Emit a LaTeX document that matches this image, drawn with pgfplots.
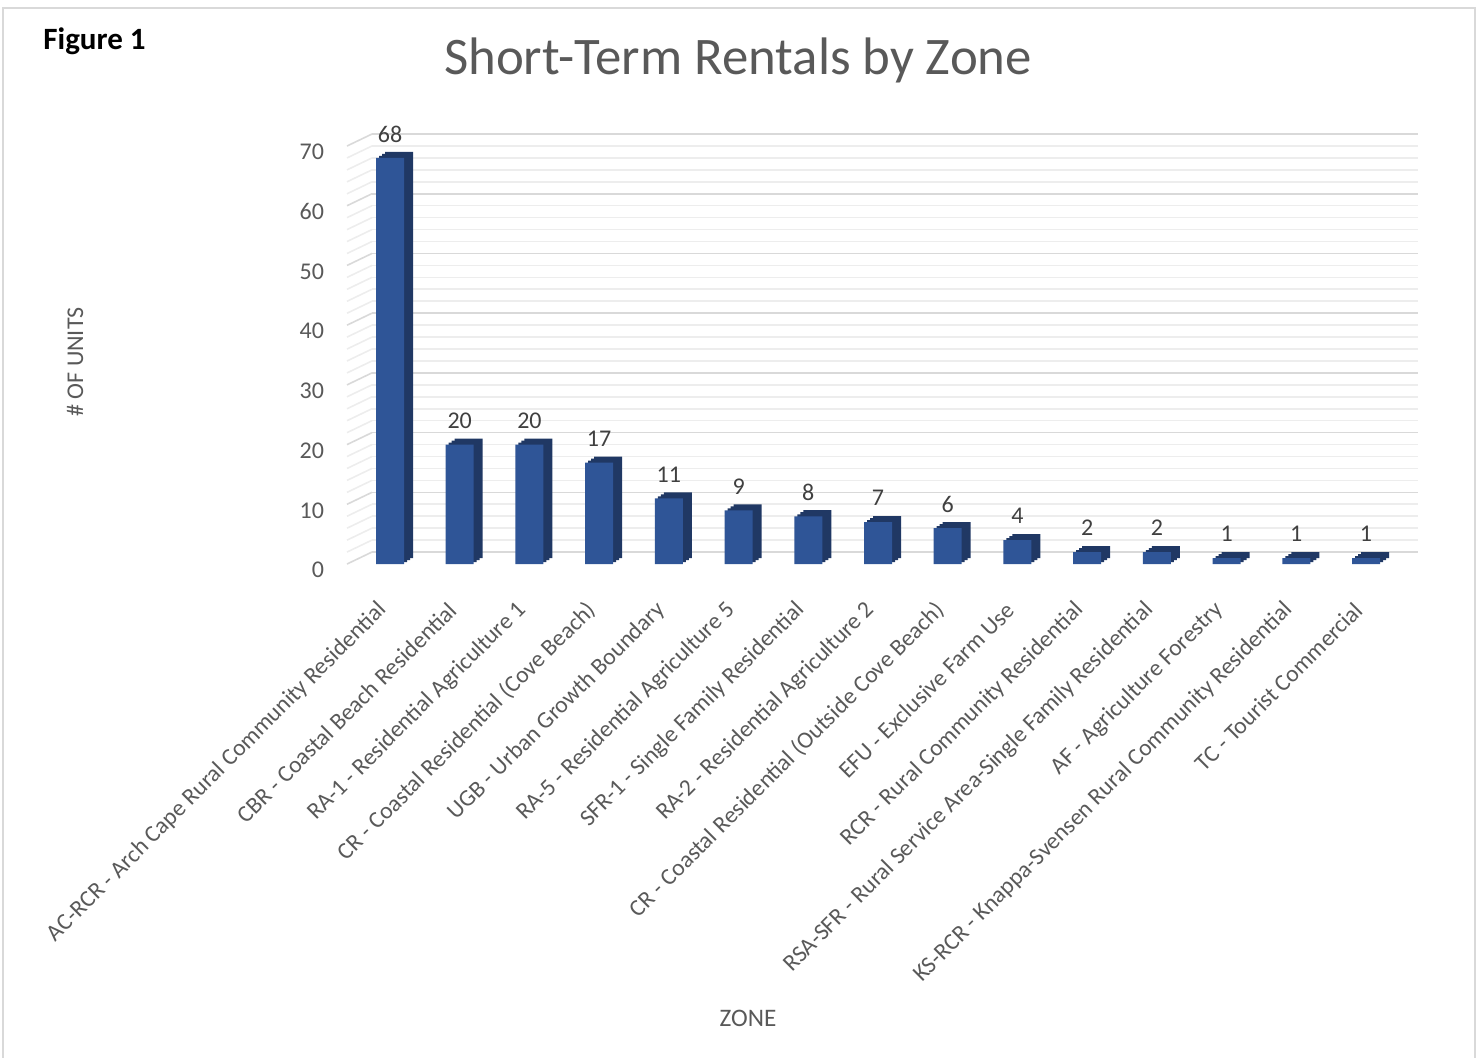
\documentclass[border=0pt]{standalone}
\usepackage{fontspec}
\setmainfont{Carlito}
\usepackage{pgfplots}
\pgfplotsset{compat=1.18}
\usepackage{pgfplotstable}

\definecolor{barfront}{HTML}{2F5597}
\definecolor{barside}{HTML}{203864}
\definecolor{txtgray}{HTML}{595959}
\definecolor{lblgray}{HTML}{404040}
\definecolor{gridmaj}{HTML}{D9D9D9}
\definecolor{gridmin}{HTML}{EDEDED}
\definecolor{framegray}{HTML}{D9D9D9}

% short-term rentals per zone (index = position on the x axis)
\pgfplotstableread{
idx units
0  68
1  20
2  20
3  17
4  11
5  9
6  8
7  7
8  6
9  4
10 2
11 2
12 1
13 1
14 1
}\zonedata

\begin{document}
\begin{tikzpicture}
\useasboundingbox (0,0) rectangle (740.5pt,-528.5pt);
\draw[framegray, line width=1pt] (1.5pt,-530pt) -- (1.5pt,-4pt) -- (737.5pt,-4pt) -- (737.5pt,-530pt);

\node[anchor=base west, inner sep=0pt, font=\fontsize{15.5}{18}\selectfont\bfseries] at (21.5pt,-24.5pt) {Figure 1};
\node[anchor=base, font=\fontsize{26.4}{30}\selectfont, text=txtgray] at (369pt,-37pt) {Short-Term Rentals by Zone};
\node[rotate=90, font=\fontsize{12}{14}\selectfont, text=txtgray] at (37.5pt,-181pt) {\# OF UNITS};
\node[font=\fontsize{12.6}{15}\selectfont, text=txtgray] at (374pt,-509pt) {ZONE};

% back wall with the grid
\begin{axis}[
    at={(186pt,-276pt)}, anchor=south west,
    scale only axis, width=523pt, height=209pt,
    xmin=-0.617, xmax=14.387, ymin=0, ymax=70,
    xtick=\empty, ytick={0,10,...,70}, minor ytick={2,4,...,68},
    yticklabels={},
    ymajorgrids, yminorgrids,
    major grid style={gridmaj, line width=0.8pt},
    minor grid style={gridmin, line width=0.8pt},
    axis line style={draw=none},
    major tick length=0pt, minor tick length=0pt,
]
\end{axis}

% front plane: bars and labels
\begin{axis}[
    at={(173.5pt,-282pt)}, anchor=south west,
    scale only axis, width=523pt, height=209pt,
    xmin=-0.617, xmax=14.387, ymin=0, ymax=70,
    clip=false,
    axis line style={draw=none},
    major tick length=0pt,
    ytick={0,10,...,70},
    xtick={0,...,14},
    xticklabels={
        AC-RCR - Arch Cape Rural Community Residential,
        CBR - Coastal Beach Residential,
        RA-1 - Residential Agriculture 1,
        CR - Coastal Residential (Cove Beach),
        UGB - Urban Growth Boundary,
        RA-5 - Residential Agriculture 5,
        SFR-1 - Single Family Residential,
        RA-2 - Residential Agriculture 2,
        CR - Coastal Residential (Outside Cove Beach),
        EFU - Exclusive Farm Use,
        RCR - Rural Community Residential,
        RSA-SFR - Rural Service Area-Single Family Residential,
        AF - Agriculture Forestry,
        KS-RCR - Knappa-Svensen Rural Community Residential,
        TC - Tourist Commercial},
    /pgf/number format/assume math mode=true,
    yticklabel style={font=\fontsize{12}{14}\selectfont, text=txtgray, xshift=-8pt, yshift=-3pt},
    xticklabel style={font=\fontsize{11.8}{13}\selectfont, text=txtgray, rotate=45, anchor=east, xshift=-14pt, yshift=-12.5pt},
    ybar, bar width=14pt, bar shift=0pt,
]
% side wall lines
\pgfplotsinvokeforeach{2,4,6,8,12,14,16,18,22,24,26,28,32,34,36,38,42,44,46,48,52,54,56,58,62,64,66,68}{
    \draw[gridmin, line width=0.8pt] (axis cs:-0.617,#1) -- ++(12.5pt,6pt);
}
\pgfplotsinvokeforeach{0,10,...,70}{
    \draw[gridmaj, line width=0.8pt] (axis cs:-0.617,#1) -- ++(12.5pt,6pt);
}
% depth of the columns
\addplot[fill=barside, draw=none, xshift=1.5pt, yshift=1pt] table[x=idx, y=units] {\zonedata};
\addplot[fill=barside, draw=none, xshift=3pt, yshift=2pt] table[x=idx, y=units] {\zonedata};
\addplot[fill=barside, draw=none, xshift=4.5pt, yshift=3pt] table[x=idx, y=units] {\zonedata};
% front faces
\addplot[fill=barfront, draw=none,
    nodes near coords,
    every node near coord/.append style={anchor=center, yshift=12pt, font=\fontsize{12}{14}\selectfont, text=lblgray}]
    table[x=idx, y=units] {\zonedata};
\end{axis}
\end{tikzpicture}
\end{document}
